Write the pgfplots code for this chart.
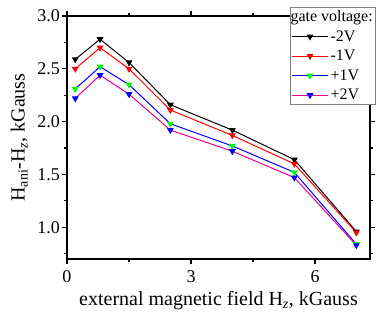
\documentclass[border=0pt]{standalone}
\usepackage{fontspec}
\setmainfont{Liberation Serif}
\usepackage{pgfplots}
\pgfplotsset{compat=1.18}
\begin{document}
\begin{tikzpicture}
\begin{axis}[name=ax, scale only axis, width=303pt, height=243pt,
  xmin=0, xmax=7.33, ymin=0.7, ymax=3.0,
  xtick={0,3,6}, minor xtick={1.5,4.5},
  ytick={1.0,1.5,2.0,2.5,3.0}, minor ytick={0.75,1.25,1.75,2.25,2.75},
  yticklabel style={/pgf/number format/fixed, /pgf/number format/fixed zerofill, /pgf/number format/precision=1, inner sep=2pt},
  /pgf/number format/assume math mode=true,
  tick align=outside, major tick length=5pt, minor tick length=3pt,
  axis line style={line width=1.4pt},
  every tick/.style={line width=1.2pt, black},
  ticklabel style={font=\fontsize{18}{18}\selectfont},
  xticklabel style={yshift=-3pt},
  xlabel={external magnetic field H\textsubscript{\textit{z}}, kGauss},
  ylabel={H\textsubscript{ani}-H\textsubscript{\textit{z}}, kGauss},
  label style={font=\fontsize{20}{20}\selectfont},
  xlabel style={yshift=-2pt},
  ylabel style={yshift=4pt},
  legend style={at={(1.02,1.037)}, anchor=north east, draw=gray, line width=0.7pt,
    font=\fontsize{16}{16}\selectfont, inner sep=1pt, row sep=3.5pt},
  legend cell align=left,
  legend image code/.code={\draw[mark repeat=2,mark phase=2,#1] plot coordinates {(0pt,0pt) (18pt,0pt) (36pt,0pt)};},
]
\addlegendimage{empty legend}
\addlegendentry{\hspace*{-40pt}gate voltage:}
\addplot[black, line width=1pt, mark=triangle*, mark size=3pt, mark options={rotate=180}] coordinates {
(0.2,2.59) (0.8,2.78) (1.5,2.56) (2.5,2.16) (4.0,1.92) (5.5,1.64) (7.0,0.96)};
\addlegendentry{-2V}
\addplot[red, line width=1pt, mark=triangle*, mark size=3pt, mark options={rotate=180}] coordinates {
(0.2,2.50) (0.8,2.70) (1.5,2.50) (2.5,2.11) (4.0,1.87) (5.5,1.60) (7.0,0.95)};
\addlegendentry{-1V}
\addplot[blue, line width=1pt, mark=triangle*, mark size=3pt, mark options={rotate=180, fill=green, draw=green}] coordinates {
(0.2,2.31) (0.8,2.52) (1.5,2.35) (2.5,1.98) (4.0,1.77) (5.5,1.52) (7.0,0.84)};
\addlegendentry{+1V}
\addplot[magenta, line width=1pt, mark=triangle*, mark size=3pt, mark options={rotate=180, fill=blue, draw=blue}] coordinates {
(0.2,2.22) (0.8,2.44) (1.5,2.26) (2.5,1.92) (4.0,1.72) (5.5,1.47) (7.0,0.83)};
\addlegendentry{+2V}
\end{axis}
\pgfresetboundingbox
\path (ax.south west) ++(-67pt,-59pt) rectangle ++(382pt,318pt);
\end{tikzpicture}
\end{document}
